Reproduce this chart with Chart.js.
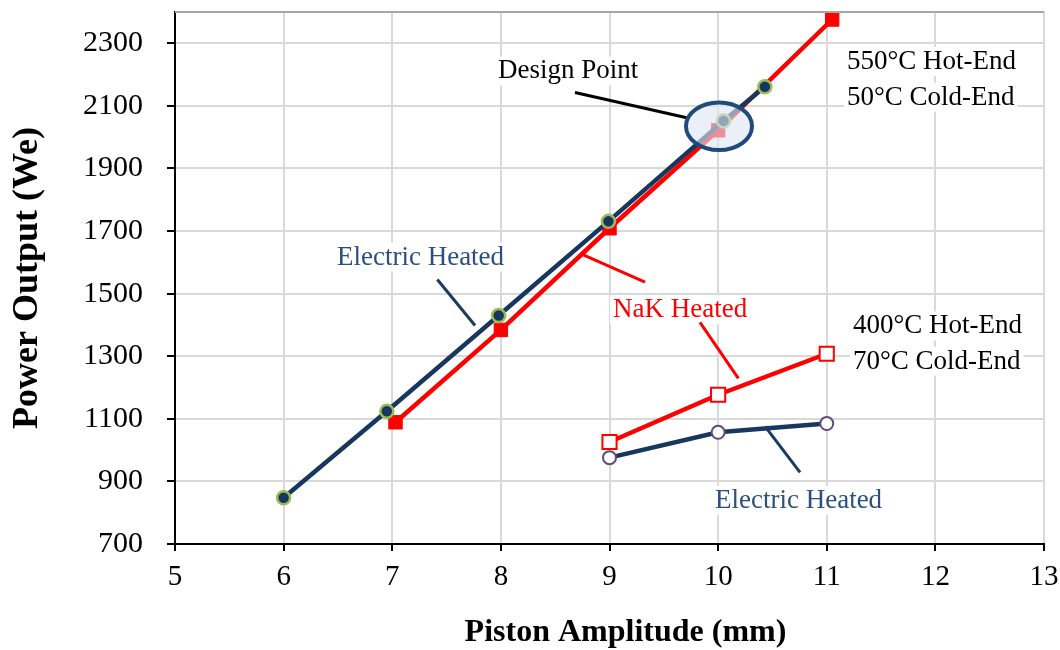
<!DOCTYPE html>
<html>
<head>
<meta charset="utf-8">
<script src="https://cdn.jsdelivr.net/npm/chart.js@4.4.1/dist/chart.umd.min.js"></script>
<style>
  html, body { margin: 0; padding: 0; background: #ffffff; }
  #c { display: block; }
</style>
</head>
<body>
<canvas id="c" width="1060" height="650"></canvas>
<script>
// ---- Data ----
const elec550X = [6.0, 6.95, 7.98, 8.99, 10.05, 10.43];
const elec550Y = [848, 1124, 1430, 1731, 2052, 2161];
const nak550X  = [7.03, 8.0, 9.0, 10.0, 11.05];
const nak550Y  = [1089, 1384, 1709, 2022, 2376];
const nak400X  = [9, 10, 11];
const nak400Y  = [1026, 1177, 1308];
const elec400X = [9, 10, 11];
const elec400Y = [976, 1057, 1085];

const xTicks = [5, 6, 7, 8, 9, 10, 11, 12, 13];
const yTicks = [700, 900, 1100, 1300, 1500, 1700, 1900, 2100, 2300];
const xRange = [5, 13];
const yRange = [700, 2400];

const xTitle = '\u2003Piston Amplitude (mm)';
const yTitle = 'Power Output (We)';

// Annotation texts: [text, x, y(baseline), color]
const noteTexts = [
  ['Design Point', 7.974, 2188, '#000000'],
  ['550°C Hot-End', 11.186, 2218, '#000000'],
  ['50°C Cold-End', 11.186, 2104, '#000000'],
  ['Electric Heated', 6.491, 1593, '#2b4f80'],
  ['NaK Heated', 9.032, 1424, '#ff0000'],
  ['400°C Hot-End', 11.242, 1373, '#000000'],
  ['70°C Cold-End', 11.242, 1260, '#000000'],
  ['Electric Heated', 9.971, 816, '#2b4f80']
];
// Leader lines: [x1, y1, x2, y2, color]
const noteLines = [
  [8.682, 2143, 9.711, 2062, '#000000'],
  [7.415, 1545, 7.762, 1398, '#1b3a62'],
  [8.759, 1624, 9.327, 1537, '#ff0000'],
  [9.833, 1408, 10.186, 1229, '#ff0000'],
  [10.432, 1076, 10.754, 929, '#1b3a62']
];
// Design point ellipse: [cx, cy, rx (x units), ry (y units)]
const designEllipse = [10.008, 2035, 0.304, 76];

const NAVY = '#17375e';
const RED = '#ff0000';

function pts(xs, ys) { return xs.map((x, i) => ({ x: x, y: ys[i] })); }

const annotPlugin = {
  id: 'annot',
  afterDatasetsDraw(chart) {
    const ctx = chart.ctx;
    const xs = chart.scales.x, ys = chart.scales.y;
    const ca = chart.chartArea;
    ctx.save();
    // top border
    ctx.strokeStyle = '#a6a6a6';
    ctx.lineWidth = 2;
    ctx.beginPath();
    ctx.moveTo(ca.left, ca.top);
    ctx.lineTo(ca.right, ca.top);
    ctx.stroke();

    // texts with white backgrounds
    ctx.font = '27px "Liberation Serif", "Times New Roman", serif';
    ctx.textBaseline = 'alphabetic';
    ctx.textAlign = 'left';
    noteTexts.forEach(t => {
      const px = xs.getPixelForValue(t[1]);
      const py = ys.getPixelForValue(t[2]);
      const w = ctx.measureText(t[0]).width;
      ctx.fillStyle = '#ffffff';
      ctx.fillRect(px - 3, py - 22, w + 6, 29);
    });
    noteTexts.forEach(t => {
      const px = xs.getPixelForValue(t[1]);
      const py = ys.getPixelForValue(t[2]);
      ctx.fillStyle = t[3];
      ctx.fillText(t[0], px, py);
    });

    // leader lines
    ctx.lineWidth = 3;
    ctx.lineCap = 'butt';
    noteLines.forEach(l => {
      ctx.strokeStyle = l[4];
      ctx.beginPath();
      ctx.moveTo(xs.getPixelForValue(l[0]), ys.getPixelForValue(l[1]));
      ctx.lineTo(xs.getPixelForValue(l[2]), ys.getPixelForValue(l[3]));
      ctx.stroke();
    });

    // design point ellipse
    const cx = xs.getPixelForValue(designEllipse[0]);
    const cy = ys.getPixelForValue(designEllipse[1]);
    const rx = Math.abs(xs.getPixelForValue(designEllipse[0] + designEllipse[2]) - cx);
    const ry = Math.abs(ys.getPixelForValue(designEllipse[1] + designEllipse[3]) - cy);
    ctx.beginPath();
    ctx.ellipse(cx, cy, rx, ry, 0, 0, Math.PI * 2);
    ctx.fillStyle = 'rgba(222,231,243,0.62)';
    ctx.fill();
    ctx.strokeStyle = '#1f4a7c';
    ctx.lineWidth = 4;
    ctx.stroke();
    ctx.restore();
  }
};

const serif = '"Liberation Serif", "Times New Roman", serif';

new Chart(document.getElementById('c'), {
  type: 'scatter',
  data: {
    datasets: [
      {
        label: 'Electric Heated 550°C',
        data: pts(elec550X, elec550Y),
        showLine: true,
        borderColor: NAVY,
        borderWidth: 4.5,
        pointStyle: 'circle',
        pointRadius: 6.5,
        pointBorderWidth: 2.5,
        pointBackgroundColor: NAVY,
        pointBorderColor: '#9bbb59'
      },
      {
        label: 'NaK Heated 550°C',
        data: pts(nak550X, nak550Y),
        showLine: true,
        borderColor: RED,
        borderWidth: 4.5,
        pointStyle: 'rect',
        pointRadius: 9.5,
        pointBorderWidth: 1,
        pointBackgroundColor: RED,
        pointBorderColor: RED
      },
      {
        label: 'Electric Heated 400°C',
        data: pts(elec400X, elec400Y),
        showLine: true,
        borderColor: NAVY,
        borderWidth: 4.5,
        pointStyle: 'circle',
        pointRadius: 6.5,
        pointBorderWidth: 2,
        pointBackgroundColor: '#ffffff',
        pointBorderColor: '#604a7b'
      },
      {
        label: 'NaK Heated 400°C',
        data: pts(nak400X, nak400Y),
        showLine: true,
        borderColor: RED,
        borderWidth: 4.5,
        pointStyle: 'rect',
        pointRadius: 10,
        pointBorderWidth: 2,
        pointBackgroundColor: '#ffffff',
        pointBorderColor: RED
      }
    ]
  },
  options: {
    responsive: false,
    animation: false,
    devicePixelRatio: 1,
    layout: { padding: { left: 0, right: 16, top: 6, bottom: 0 } },
    plugins: {
      legend: { display: false },
      tooltip: { enabled: false }
    },
    scales: {
      x: {
        type: 'linear',
        min: xRange[0],
        max: xRange[1],
        afterBuildTicks: s => { s.ticks = xTicks.map(v => ({ value: v })); },
        afterFit: s => { s.height = 106; s.paddingLeft = 0; s.paddingRight = 0; },
        ticks: {
          font: { family: serif, size: 29 },
          color: '#000000',
          padding: 9,
          maxRotation: 0,
          autoSkip: false,
          callback: v => String(v)
        },
        grid: {
          color: '#d9d9d9',
          lineWidth: 2,
          drawTicks: true,
          tickLength: 7,
          tickColor: '#000000',
          tickWidth: 2
        },
        border: { color: '#000000', width: 2 },
        title: {
          display: true,
          text: xTitle,
          color: '#000000',
          font: { family: serif, size: 32, weight: 'bold', lineHeight: 1.1 },
          padding: { top: 0, bottom: 0 }
        }
      },
      y: {
        type: 'linear',
        min: yRange[0],
        max: yRange[1],
        afterBuildTicks: s => { s.ticks = yTicks.map(v => ({ value: v })); },
        afterFit: s => { s.width = 175; s.paddingTop = 0; s.paddingBottom = 0; },
        ticks: {
          font: { family: serif, size: 30 },
          color: '#000000',
          padding: 24,
          autoSkip: false,
          callback: v => String(v)
        },
        grid: {
          color: '#d9d9d9',
          lineWidth: 2,
          drawTicks: true,
          tickLength: 8,
          tickColor: '#000000',
          tickWidth: 2
        },
        border: { color: '#000000', width: 2 },
        title: {
          display: true,
          text: yTitle,
          color: '#000000',
          font: { family: serif, size: 36, weight: 'bold', lineHeight: 1.2 },
          padding: { top: 6, bottom: 0 }
        }
      }
    }
  },
  plugins: [annotPlugin]
});
</script>
</body>
</html>
